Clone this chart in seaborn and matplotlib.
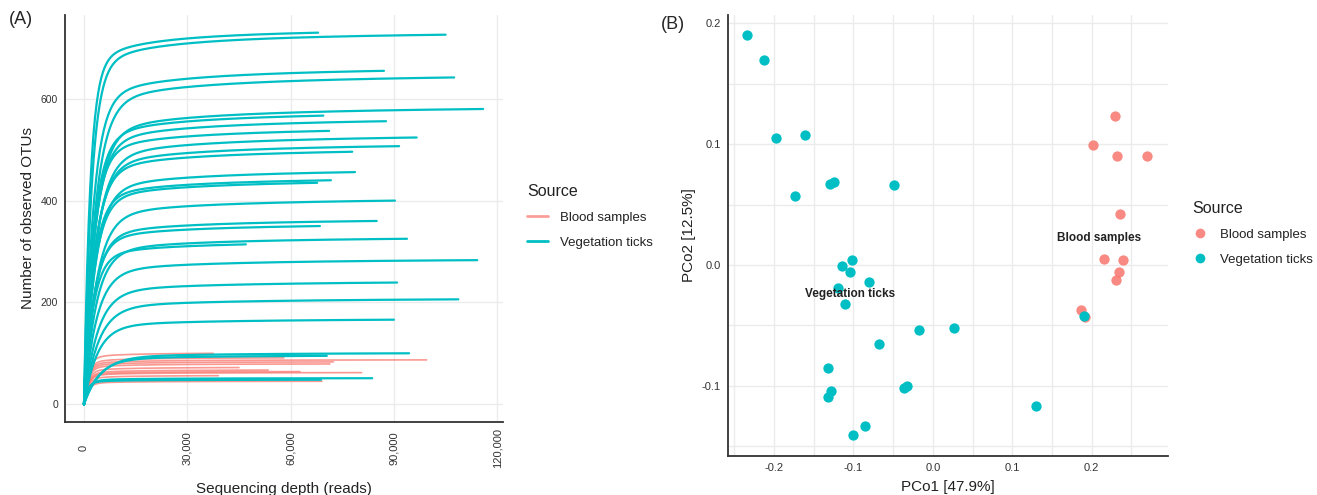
import numpy as np
import pandas as pd
import matplotlib
matplotlib.use("Agg")
import matplotlib.pyplot as plt
from matplotlib.lines import Line2D
from matplotlib.ticker import FuncFormatter, MultipleLocator
import seaborn as sns

# ---------------- Data ----------------
# Panel A: rarefaction curves (final sequencing depth, observed OTUs at that depth, saturation depth)
veg_depth = [68000, 105000, 87100, 107500, 115900, 69500, 87700, 71200, 96600, 91500,
             77900, 78700, 71700, 67700, 90300, 85000, 68500, 93800, 47000, 114200,
             90900, 108700, 90000, 94400, 70500, 83700, 68800]
veg_otus = [730, 726, 655, 642, 580, 567, 556, 537, 524, 507,
            496, 456, 440, 435, 400, 360, 350, 325, 314, 283,
            239, 206, 166, 100, 95, 51, 48]
veg_sat = [1800, 2200, 2700, 3200, 3200, 2800, 3000, 2700, 3400, 3200,
           3000, 3200, 2700, 2900, 3500, 3000, 2800, 3400, 2600, 3600,
           3900, 4100, 3800, 4800, 4300, 1300, 1100]

blood_depth = [37500, 99500, 72400, 71400, 80600, 53500, 62700, 39000, 69100, 45000, 58000]
blood_otus = [100, 87, 83, 79, 62, 67, 64, 56, 45, 72, 91]
blood_sat = [1200, 1200, 1200, 1200, 1200, 1200, 1200, 1200, 1200, 1200, 1200]

# Panel B: PCoA coordinates
veg_pc1 = [-0.234, -0.213, -0.197, -0.161, -0.174, -0.130, -0.125, -0.049, -0.102, -0.115,
           -0.105, -0.080, -0.120, -0.111, -0.017, 0.026, -0.068, -0.132, -0.128, -0.132,
           -0.033, -0.036, -0.085, -0.101, 0.130, 0.190]
veg_pc2 = [0.190, 0.170, 0.105, 0.108, 0.057, 0.067, 0.069, 0.066, 0.004, -0.001,
           -0.006, -0.014, -0.019, -0.032, -0.054, -0.052, -0.065, -0.085, -0.104, -0.109,
           -0.100, -0.102, -0.133, -0.141, -0.117, -0.042]
blood_pc1 = [0.229, 0.202, 0.232, 0.270, 0.236, 0.215, 0.240, 0.234, 0.230, 0.186, 0.192]
blood_pc2 = [0.123, 0.099, 0.090, 0.090, 0.042, 0.005, 0.004, -0.006, -0.012, -0.037, -0.043]

sources = ["Blood samples", "Vegetation ticks"]
colors = {"Blood samples": "#F8766D", "Vegetation ticks": "#00BFC4"}


def rarefy(depth, otus, sat, start):
    x = np.linspace(start, depth, 300)
    g = lambda v: 0.88 * (1 - np.exp(-v / sat)) + 0.12 * v / (v + 6 * sat)
    return x, otus * g(x) / g(depth)


rows = []
for i, (d, o, k) in enumerate(zip(veg_depth, veg_otus, veg_sat)):
    x, y = rarefy(d, o, k, 0)
    rows.append(pd.DataFrame({"depth": x, "otus": y, "sample": f"V{i}", "Source": sources[1]}))
for i, (d, o, k) in enumerate(zip(blood_depth, blood_otus, blood_sat)):
    x, y = rarefy(d, o, k, 1000)
    rows.append(pd.DataFrame({"depth": x, "otus": y, "sample": f"B{i}", "Source": sources[0]}))
curves = pd.concat(rows, ignore_index=True)

blood_pts = pd.DataFrame({"PC1": blood_pc1, "PC2": blood_pc2, "Source": sources[0]})
veg_pts = pd.DataFrame({"PC1": veg_pc1, "PC2": veg_pc2, "Source": sources[1]})

# ---------------- Style ----------------
sns.set_style("white")
plt.rcParams["font.family"] = ["Liberation Sans", "DejaVu Sans"]
plt.rcParams["axes.unicode_minus"] = False

fig = plt.figure(figsize=(13.17, 4.95), dpi=100)
axA = fig.add_axes([0.0494, 0.1475, 0.3326, 0.8225])
axB = fig.add_axes([0.5528, 0.0788, 0.3340, 0.8912])

grid_c = "#EBEBEB"
for ax in (axA, axB):
    ax.set_axisbelow(True)

# ---------------- Panel A ----------------
blood_df = curves[curves["Source"] == sources[0]]
veg_df = curves[curves["Source"] == sources[1]]
sns.lineplot(data=blood_df, x="depth", y="otus", units="sample", estimator=None,
             color=colors[sources[0]], lw=1.2, alpha=0.75, ax=axA, legend=False)
sns.lineplot(data=veg_df, x="depth", y="otus", units="sample", estimator=None,
             color=colors[sources[1]], lw=1.6, ax=axA, legend=False)

axA.set_xlim(-5500, 121700)
axA.set_ylim(-35, 765)
axA.set_xticks([0, 30000, 60000, 90000, 120000])
axA.set_yticks([0, 200, 400, 600])
axA.xaxis.set_major_formatter(FuncFormatter(lambda v, p: f"{int(v):,}"))
axA.grid(True, color=grid_c, lw=1.0)
axA.set_xlabel("Sequencing depth (reads)", fontsize=11, color="#222222", labelpad=10)
axA.set_ylabel("Number of observed OTUs", fontsize=11, color="#222222")

# ---------------- Panel B ----------------
sns.scatterplot(data=blood_pts, x="PC1", y="PC2", color=colors[sources[0]], alpha=0.85,
                s=55, linewidth=0, ax=axB, legend=False)
sns.scatterplot(data=veg_pts, x="PC1", y="PC2", color=colors[sources[1]],
                s=55, linewidth=0, ax=axB, legend=False)
axB.set_xlim(-0.258, 0.296)
axB.set_ylim(-0.158, 0.207)
axB.xaxis.set_major_locator(MultipleLocator(0.1))
axB.yaxis.set_major_locator(MultipleLocator(0.1))
axB.xaxis.set_minor_locator(MultipleLocator(0.05))
axB.yaxis.set_minor_locator(MultipleLocator(0.05))
axB.xaxis.set_major_formatter(FuncFormatter(lambda v, p: f"{v:.1f}"))
axB.yaxis.set_major_formatter(FuncFormatter(lambda v, p: f"{v:.1f}"))
axB.grid(True, which="both", color=grid_c, lw=1.0)
axB.tick_params(which="minor", length=0)
axB.set_xlabel("PCo1 [47.9%]", fontsize=11, color="#222222", labelpad=5)
axB.set_ylabel("PCo2 [12.5%]", fontsize=11, color="#222222")
axB.text(0.209, 0.022, "Blood samples", fontsize=8.5, fontweight="bold",
         ha="center", va="center", color="#222222")
axB.text(-0.104, -0.024, "Vegetation ticks", fontsize=8.5, fontweight="bold",
         ha="center", va="center", color="#222222")

for ax, fs in ((axA, 7.5), (axB, 8)):
    sns.despine(ax=ax)
    for s in ("left", "bottom"):
        ax.spines[s].set_color("#333333")
        ax.spines[s].set_linewidth(1.3)
    ax.tick_params(which="major", length=3, width=0.8, color="#333333",
                   labelsize=fs, labelcolor="#333333", pad=2)

# rotated x tick labels centred below axis (as in the original)
axA.tick_params(axis="x", labelrotation=90, pad=16)
for lab in axA.get_xticklabels():
    lab.set_va("center")
    lab.set_fontsize(8)

# ---------------- Legends ----------------
hA = [Line2D([], [], color=colors[s], lw=2, alpha=(0.7 if s == sources[0] else 1)) for s in sources]
legA = fig.legend(hA, sources, title="Source", loc="upper left", bbox_to_anchor=(0.391, 0.652),
                  frameon=False, fontsize=9.5, title_fontsize=11.5, handlelength=1.6,
                  handletextpad=0.9, labelspacing=0.95, alignment="left")
hB = [Line2D([], [], marker="o", ls="", markersize=7, markeredgewidth=0, color=colors[s],
             alpha=(0.85 if s == sources[0] else 1)) for s in sources]
legB = fig.legend(hB, sources, title="Source", loc="upper left", bbox_to_anchor=(0.896, 0.618),
                  frameon=False, fontsize=9.5, title_fontsize=11.5, handlelength=1.2,
                  handletextpad=0.9, labelspacing=0.95, alignment="left")
for leg in (legA, legB):
    leg.get_title().set_color("#222222")
    for t in leg.get_texts():
        t.set_color("#222222")

fig.text(0.007, 0.978, "(A)", fontsize=13, va="top", ha="left")
fig.text(0.502, 0.968, "(B)", fontsize=13, va="top", ha="left")

fig.savefig("out.png", dpi=100)
